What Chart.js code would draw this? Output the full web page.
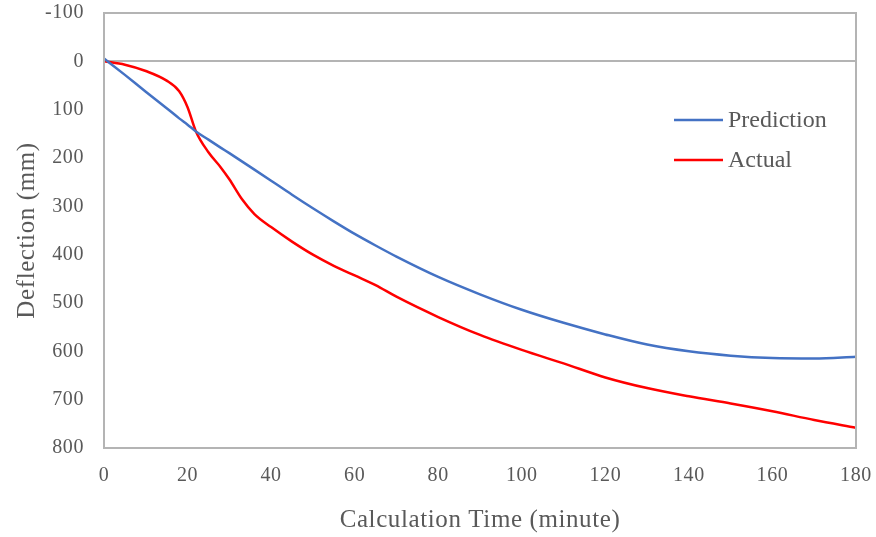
<!DOCTYPE html>
<html>
<head>
<meta charset="utf-8">
<script src="https://cdn.jsdelivr.net/npm/chart.js@4"></script>
<style>
    html, body { margin: 0; padding: 0; background: #fff; }
    #wrap { width: 876px; height: 537px; }
</style>
</head>
<body>
<div id="wrap"><canvas id="deflectionChart"></canvas></div>
<script>
// Calculation time (minute) and deflection (mm)
const times = [0, 5, 10, 15, 18, 20, 22, 25, 28, 30, 33, 36, 40, 45, 50, 55, 60, 65, 70, 80, 90, 100, 110, 120, 130, 140, 150, 160, 170, 180];
const prediction = [-6, 28, 63, 97, 118, 131, 145, 162, 179, 190, 207, 224, 247, 276, 304, 331, 357, 381, 404, 446, 482, 514, 541, 565, 586, 600, 609, 614, 615, 611];
const actual = [0, 7, 20, 40, 62, 95, 145, 188, 220, 244, 285, 316, 343, 373, 400, 423, 443, 463, 487, 529, 566, 597, 625, 654, 676, 693, 708, 724, 742, 758];
const seriesNames = ['Prediction', 'Actual'];

const axisGray = '#b4b4b4';
const textGray = '#595959';
const serif = "'Liberation Serif', 'DejaVu Serif', serif";

Chart.defaults.font.family = serif;
Chart.defaults.font.size = 20;
Chart.defaults.color = textGray;

function toPoints(values) {
    return times.map((t, i) => ({ x: t, y: values[i] }));
}

// Slightly looser text, box around the plot area, legend inside it
const plotFrame = {
    id: 'plotFrame',
    beforeDraw(chart) {
        chart.ctx.letterSpacing = '0.6px';
    },
    afterDraw(chart) {
        const { ctx, chartArea } = chart;
        ctx.save();
        ctx.strokeStyle = axisGray;
        ctx.lineWidth = 2;
        ctx.strokeRect(chartArea.left, chartArea.top, chartArea.right - chartArea.left, chartArea.bottom - chartArea.top);

        const x0 = chartArea.right - 182;
        ctx.letterSpacing = '0px';
        ctx.font = '24px ' + serif;
        ctx.textBaseline = 'middle';
        ctx.fillStyle = textGray;
        chart.data.datasets.forEach((ds, i) => {
            const y = chartArea.top + 107 + i * 40;
            ctx.strokeStyle = ds.borderColor;
            ctx.lineWidth = 2.5;
            ctx.beginPath();
            ctx.moveTo(x0, y);
            ctx.lineTo(x0 + 49, y);
            ctx.stroke();
            ctx.fillText(ds.label, x0 + 54, y + 1);
        });
        ctx.restore();
    }
};

const ctx = document.getElementById('deflectionChart');
new Chart(ctx, {
    type: 'line',
    data: {
        datasets: [{
            label: seriesNames[0],
            data: toPoints(prediction),
            borderColor: '#4472C4',
            borderWidth: 2.5,
            pointRadius: 0,
            cubicInterpolationMode: 'monotone'
        }, {
            label: seriesNames[1],
            data: toPoints(actual),
            borderColor: '#FF0000',
            borderWidth: 2.5,
            pointRadius: 0,
            cubicInterpolationMode: 'monotone'
        }]
    },
    options: {
        responsive: true,
        maintainAspectRatio: false,
        animation: false,
        layout: {
            padding: { top: 13, right: 20, left: 0, bottom: 0 }
        },
        plugins: {
            legend: { display: false },
            tooltip: { enabled: false }
        },
        scales: {
            x: {
                type: 'linear',
                min: 0,
                max: 180,
                ticks: { stepSize: 20, padding: 16 },
                grid: { display: false, drawTicks: false },
                border: { display: false },
                title: {
                    display: true,
                    text: 'Calculation Time (minute)',
                    font: { size: 25 },
                    padding: { top: 10, bottom: 2 }
                },
                afterFit(scale) {
                    scale.height = 89;
                    scale.paddingLeft = 0;
                    scale.paddingRight = 0;
                }
            },
            y: {
                min: -100,
                max: 800,
                reverse: true,
                ticks: { stepSize: 100, padding: 20 },
                grid: {
                    drawTicks: false,
                    lineWidth: 2,
                    color: (c) => c.tick && c.tick.value === 0 ? axisGray : 'rgba(0,0,0,0)'
                },
                border: { display: false },
                title: {
                    display: true,
                    text: 'Deflection (mm)',
                    font: { size: 25 },
                    padding: { top: 12, bottom: 8 }
                },
                afterFit(scale) {
                    scale.width = 104;
                    scale.paddingTop = 0;
                    scale.paddingBottom = 0;
                }
            }
        }
    },
    plugins: [plotFrame]
});
</script>
</body>
</html>
